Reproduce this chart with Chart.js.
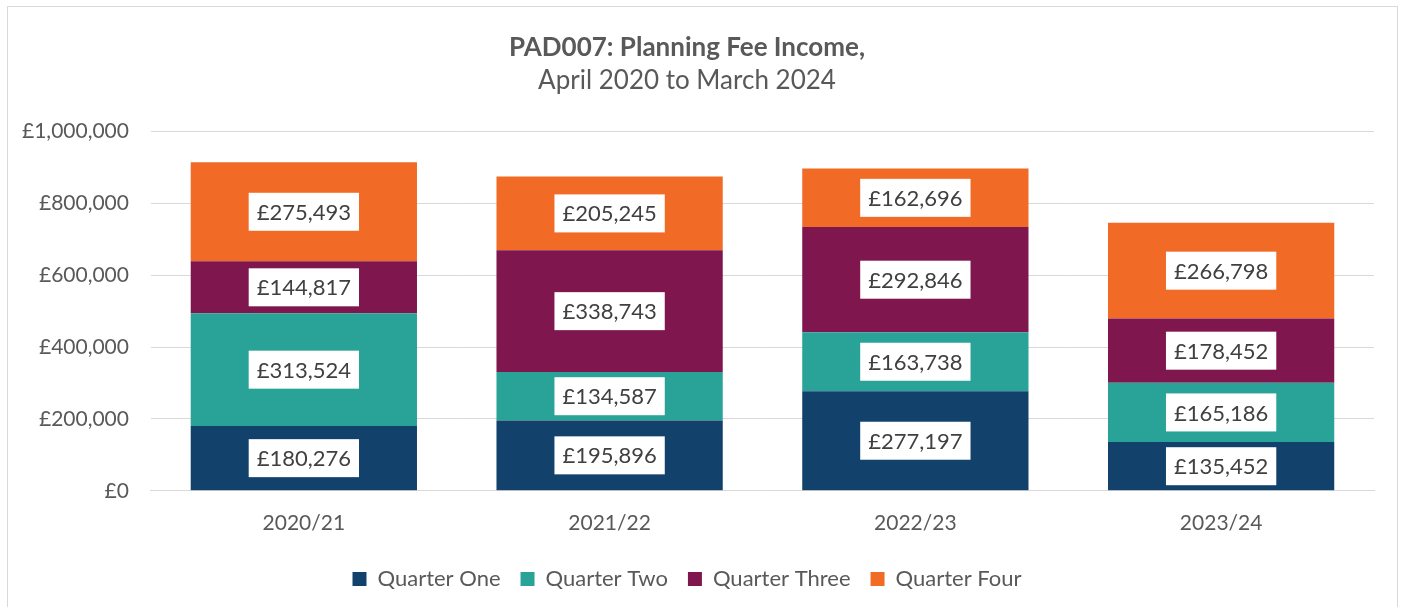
<!DOCTYPE html>
<html>
<head>
<meta charset="utf-8">
<script src="https://cdn.jsdelivr.net/npm/chart.js@4/dist/chart.umd.min.js"></script>
<style>
  html, body { margin: 0; padding: 0; background: #fff; }
  #box {
    position: absolute; left: 7px; top: 6px; width: 1391px; height: 610px;
    border: 1px solid #d9d9d9; box-sizing: border-box;
  }
  #wrap { position: absolute; left: 0; top: 0; width: 1408px; height: 607px; }
</style>
</head>
<body>
<div id="box"></div>
<div id="wrap"><canvas id="myChart"></canvas></div>
<script>
const years = ['2020/21', '2021/22', '2022/23', '2023/24'];
const q1 = [180276, 195896, 277197, 135452];
const q2 = [313524, 134587, 163738, 165186];
const q3 = [144817, 338743, 292846, 178452];
const q4 = [275493, 205245, 162696, 266798];
const seriesNames = ['Quarter One', 'Quarter Two', 'Quarter Three', 'Quarter Four'];
const colours = ['#12416b', '#29a398', '#80164e', '#f26b26'];

const fontName = 'Lato, "Noto Sans", sans-serif';
const grey = '#595959';

function money(v){
  return '£' + v.toLocaleString('en-GB');
}

// white boxes with the value in the middle of each segment
const boxLabels = {
  id: 'boxLabels',
  afterDatasetsDraw(chart){
    const ctx = chart.ctx;
    ctx.save();
    ctx.font = '22px ' + fontName;
    ctx.textAlign = 'center';
    ctx.textBaseline = 'middle';
    chart.data.datasets.forEach(function(ds, i){
      const meta = chart.getDatasetMeta(i);
      meta.data.forEach(function(bar, j){
        const txt = money(ds.data[j]);
        const cy = (bar.y + bar.base) / 2;
        const w = ctx.measureText(txt).width + 16;
        const h = 38;
        ctx.fillStyle = '#ffffff';
        ctx.fillRect(bar.x - w / 2, cy - h / 2, w, h);
        ctx.fillStyle = '#404040';
        ctx.fillText(txt, bar.x, cy + 1);
      });
    });
    ctx.restore();
  }
};

window.onload = function(){
  const ctx = document.getElementById('myChart');
  const data = [q1, q2, q3, q4];
  const datasets = [];
  for (var i = 0; i < data.length; i++){
    datasets.push({
      label: seriesNames[i],
      data: data[i],
      backgroundColor: colours[i],
      borderWidth: 0,
      categoryPercentage: 0.74,
      barPercentage: 1.0
    });
  }

  new Chart(ctx, {
    type: 'bar',
    data: { labels: years, datasets: datasets },
    options: {
      responsive: false,
      maintainAspectRatio: false,
      animation: false,
      layout: { padding: { left: 0, right: 34, top: 14, bottom: 7 } },
      plugins: {
        title: {
          display: true,
          text: 'PAD007: Planning Fee Income,',
          color: grey,
          font: { family: fontName, size: 26, weight: 'bold' },
          padding: { top: 18, bottom: 2 }
        },
        subtitle: {
          display: true,
          text: 'April 2020 to March 2024',
          color: grey,
          font: { family: fontName, size: 26 },
          padding: { top: 0, bottom: 35 }
        },
        legend: {
          position: 'bottom',
          labels: {
            color: grey,
            font: { family: fontName, size: 22 },
            boxWidth: 14,
            boxHeight: 14,
            padding: 20
          }
        },
        tooltip: { enabled: false }
      },
      scales: {
        x: {
          stacked: true,
          grid: { display: false },
          border: { display: true, color: '#d9d9d9' },
          ticks: { color: grey, font: { family: fontName, size: 21 }, padding: 12 }
        },
        y: {
          stacked: true,
          min: 0,
          max: 1000000,
          grid: { color: '#d9d9d9', drawTicks: false },
          border: { display: false },
          ticks: {
            stepSize: 200000,
            color: grey,
            padding: 22,
            font: { family: fontName, size: 21 },
            callback: function(v){ return money(v); }
          }
        }
      }
    },
    plugins: [boxLabels]
  });
};
</script>
<script>
  document.getElementById('myChart').width = 1408;
  document.getElementById('myChart').height = 607;
</script>
</body>
</html>
